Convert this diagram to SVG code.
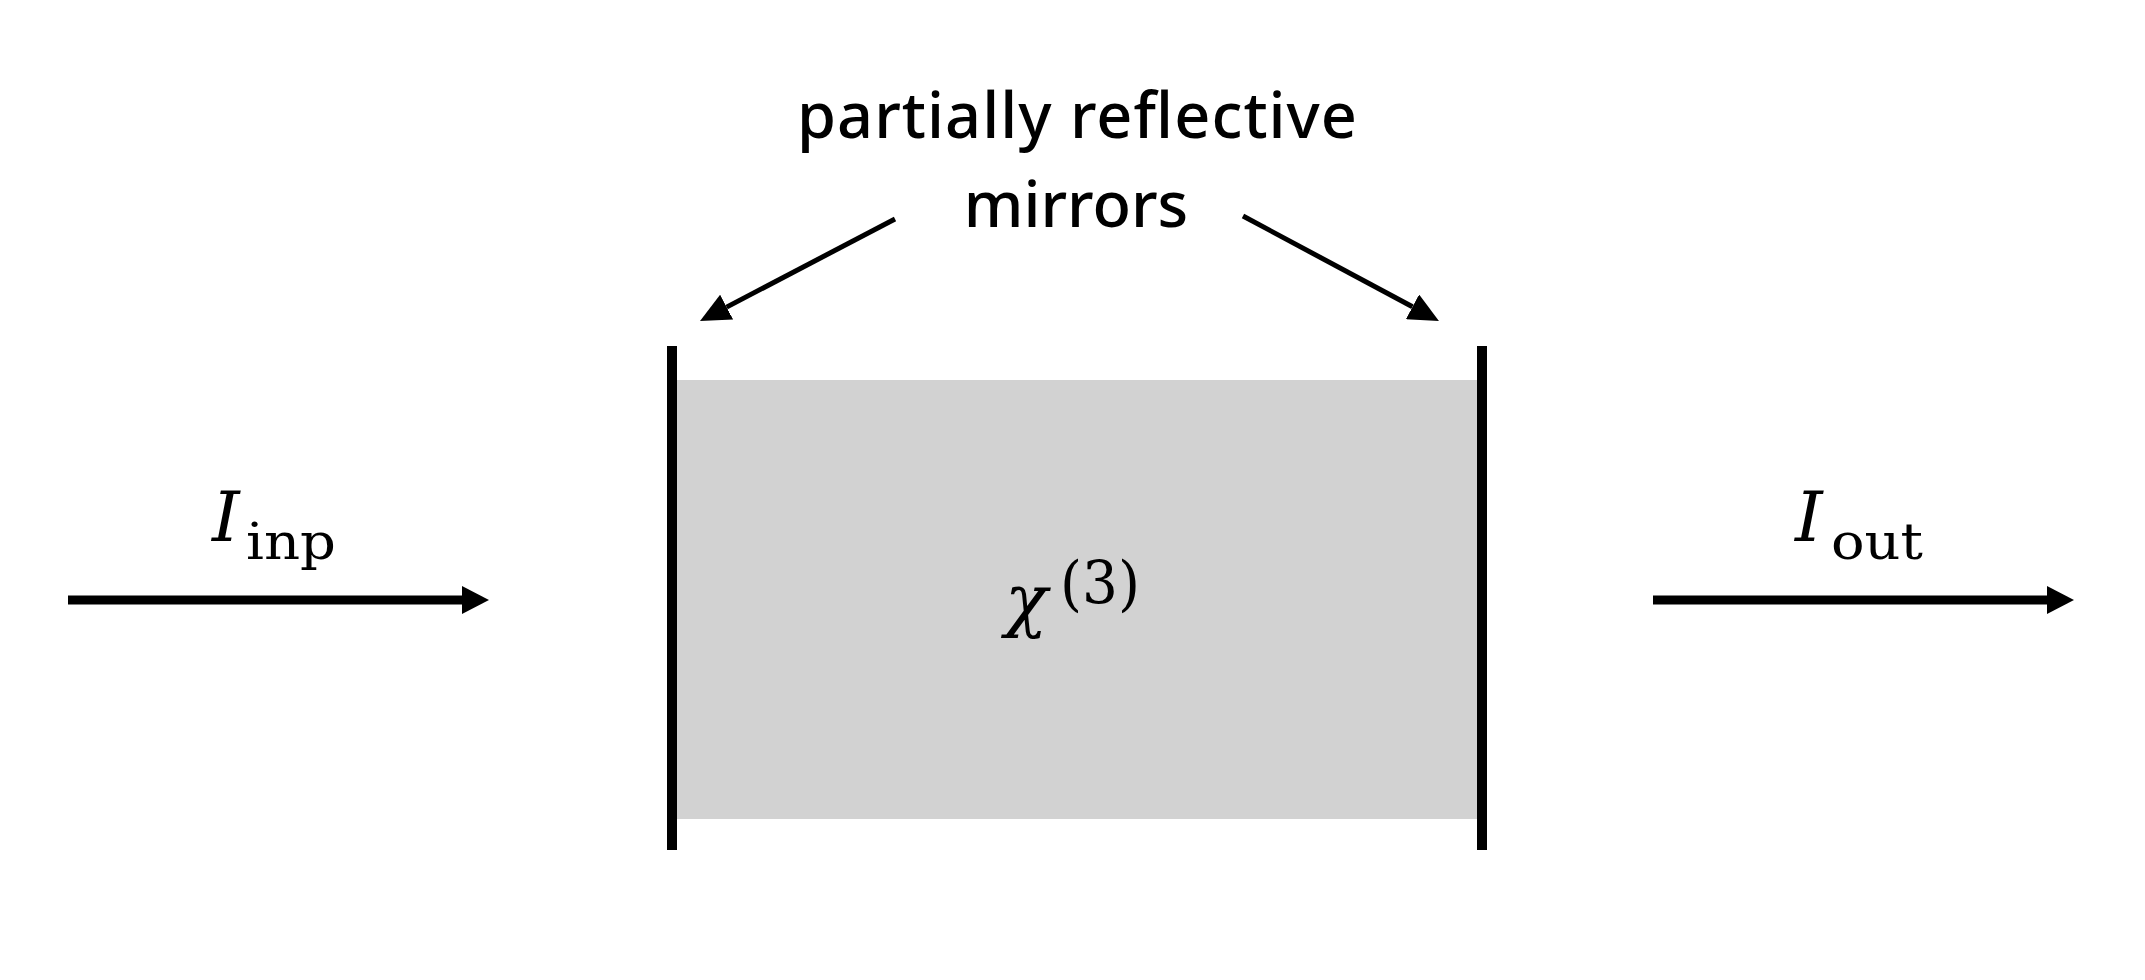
<svg xmlns="http://www.w3.org/2000/svg" width="2145" height="980" viewBox="0 0 2145 980">
<style>
.lbl{font-family:"Noto Sans","Open Sans",sans-serif;font-size:63px;font-weight:500;fill:#000}
.math{font-family:"DejaVu Serif","Liberation Serif",serif;fill:#000}
.it{font-style:italic}
.mirror{stroke:#000;stroke-width:10;fill:none}
.conn{stroke:#000;fill:none}
</style>
<defs>
<marker id="headH" viewBox="0 0 10 10" refX="0" refY="5" markerUnits="userSpaceOnUse" markerWidth="27" markerHeight="28" orient="auto" preserveAspectRatio="none"><path d="M0,0 L10,5 L0,10 z" fill="#000"/></marker>
<marker id="headD" viewBox="0 0 10 10" refX="0" refY="5" markerUnits="userSpaceOnUse" markerWidth="30" markerHeight="28" orient="auto" preserveAspectRatio="none"><path d="M0,0 L10,5 L0,10 z" fill="#000"/></marker>
</defs>
<rect width="2145" height="980" fill="#fff"/>
<g id="cavity">
<rect x="677" y="380" width="800" height="439" fill="#d2d2d2"/>
<text class="math it" x="1005" y="624" font-size="70">χ</text>
<text class="math" x="1060" y="604" font-size="60" textLength="80" lengthAdjust="spacingAndGlyphs">(3)</text>
</g>
<g id="mirror-left"><line class="mirror" x1="672" y1="346" x2="672" y2="850"/></g>
<g id="mirror-right"><line class="mirror" x1="1482" y1="346" x2="1482" y2="850"/></g>
<g id="label-mirrors">
<text class="lbl" x="1077" y="138" text-anchor="middle" textLength="560" lengthAdjust="spacing">partially reflective</text>
<text class="lbl" x="1076" y="227" text-anchor="middle">mirrors</text>
</g>
<g id="label-inp">
<text class="math it" x="212" y="541" font-size="70">I</text>
<text class="math" x="246" y="559" font-size="50" textLength="90" lengthAdjust="spacingAndGlyphs">inp</text>
</g>
<g id="label-out">
<text class="math it" x="1795" y="541" font-size="70">I</text>
<text class="math" x="1831" y="559" font-size="50" textLength="92" lengthAdjust="spacingAndGlyphs">out</text>
</g>
<g id="connectors">
<line class="conn" stroke-width="9" x1="68" y1="600" x2="462" y2="600" marker-end="url(#headH)"/>
<line class="conn" stroke-width="9" x1="1653" y1="600" x2="2047" y2="600" marker-end="url(#headH)"/>
<line class="conn" stroke-width="5" x1="895" y1="219" x2="726.6" y2="307.1" marker-end="url(#headD)"/>
<line class="conn" stroke-width="5" x1="1243" y1="216" x2="1412.5" y2="306.8" marker-end="url(#headD)"/>
</g>
</svg>
